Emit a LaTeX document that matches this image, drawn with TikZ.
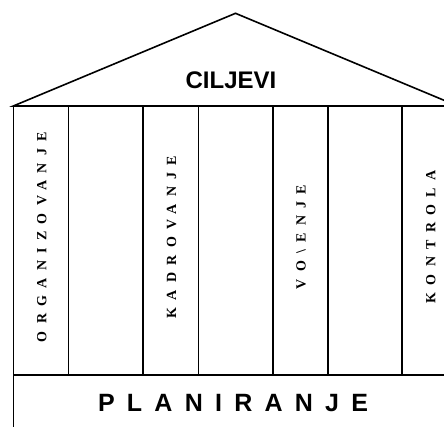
\documentclass[tikz,border=0pt]{standalone}
\usepackage{fontspec}
\setmainfont{Liberation Serif}
\setsansfont{Liberation Sans}
\usetikzlibrary{positioning, calc}

\begin{document}
\begin{tikzpicture}[
    x=1pt, y=-1pt,
    % Style for the outlines
    frame/.style={
        draw,
        line width=1.6pt,
        line join=miter
    },
    % Style for the pillars
    pillar/.style={
        rectangle,
        frame,
        minimum height=269pt,
        inner sep=0pt,
        outer sep=0pt
    },
    pillartext/.style={
        rotate=90,
        inner sep=0pt,
        font=\fontsize{14}{14}\selectfont\rmfamily\bfseries\addfontfeature{LetterSpace=52}
    },
    title/.style={
        inner sep=0pt,
        font=\fontsize{24}{24}\selectfont\sffamily\bfseries
    }
]

    % --- Settings ---
    \def\pillartop{106}
    \def\pillarbottom{375}
    \useasboundingbox (0,0) rectangle (444,426);
    \clip (0,0) rectangle (444,426);

    % --- Roof ---
    \coordinate (roof_left) at (13.3, \pillartop);
    \coordinate (roof_right) at (457.7, \pillartop);
    \coordinate (roof_top) at (235.5, 13.3);
    \draw[frame] (roof_left) -- (roof_top) -- (roof_right) -- cycle;
    \node[title] (goals) at (231, 80.5) {CILJEVI};

    % --- Pillars ---
    \foreach \a/\b [count=\k] in {13.3/68.3, 68.3/142.7, 142.7/198.3, 198.3/272.7,
                                  272.7/327.7, 327.7/401.7, 401.7/457.7} {
        \node[pillar, anchor=north west, minimum width={\b pt-\a pt}] (pillar\k) at (\a, \pillartop) {};
    }

    \foreach \k/\name in {1/ORGANIZOVANJE, 3/KADROVANJE, 5/VO\textbackslash ENJE, 7/KONTROLA} {
        \node[pillartext] (label\k) at ($(pillar\k.center) + (1, -3.5)$) {\name};
    }

    % --- Base ---
    \node[pillar, anchor=north west, minimum width=444.4pt, minimum height=80pt] (base) at (13.3, \pillarbottom) {};
    \node[title, font=\fontsize{25}{25}\selectfont\sffamily\bfseries\addfontfeature{LetterSpace=49}] (planning) at (233, 403.5) {PLANIRANJE};

\end{tikzpicture}
\end{document}
